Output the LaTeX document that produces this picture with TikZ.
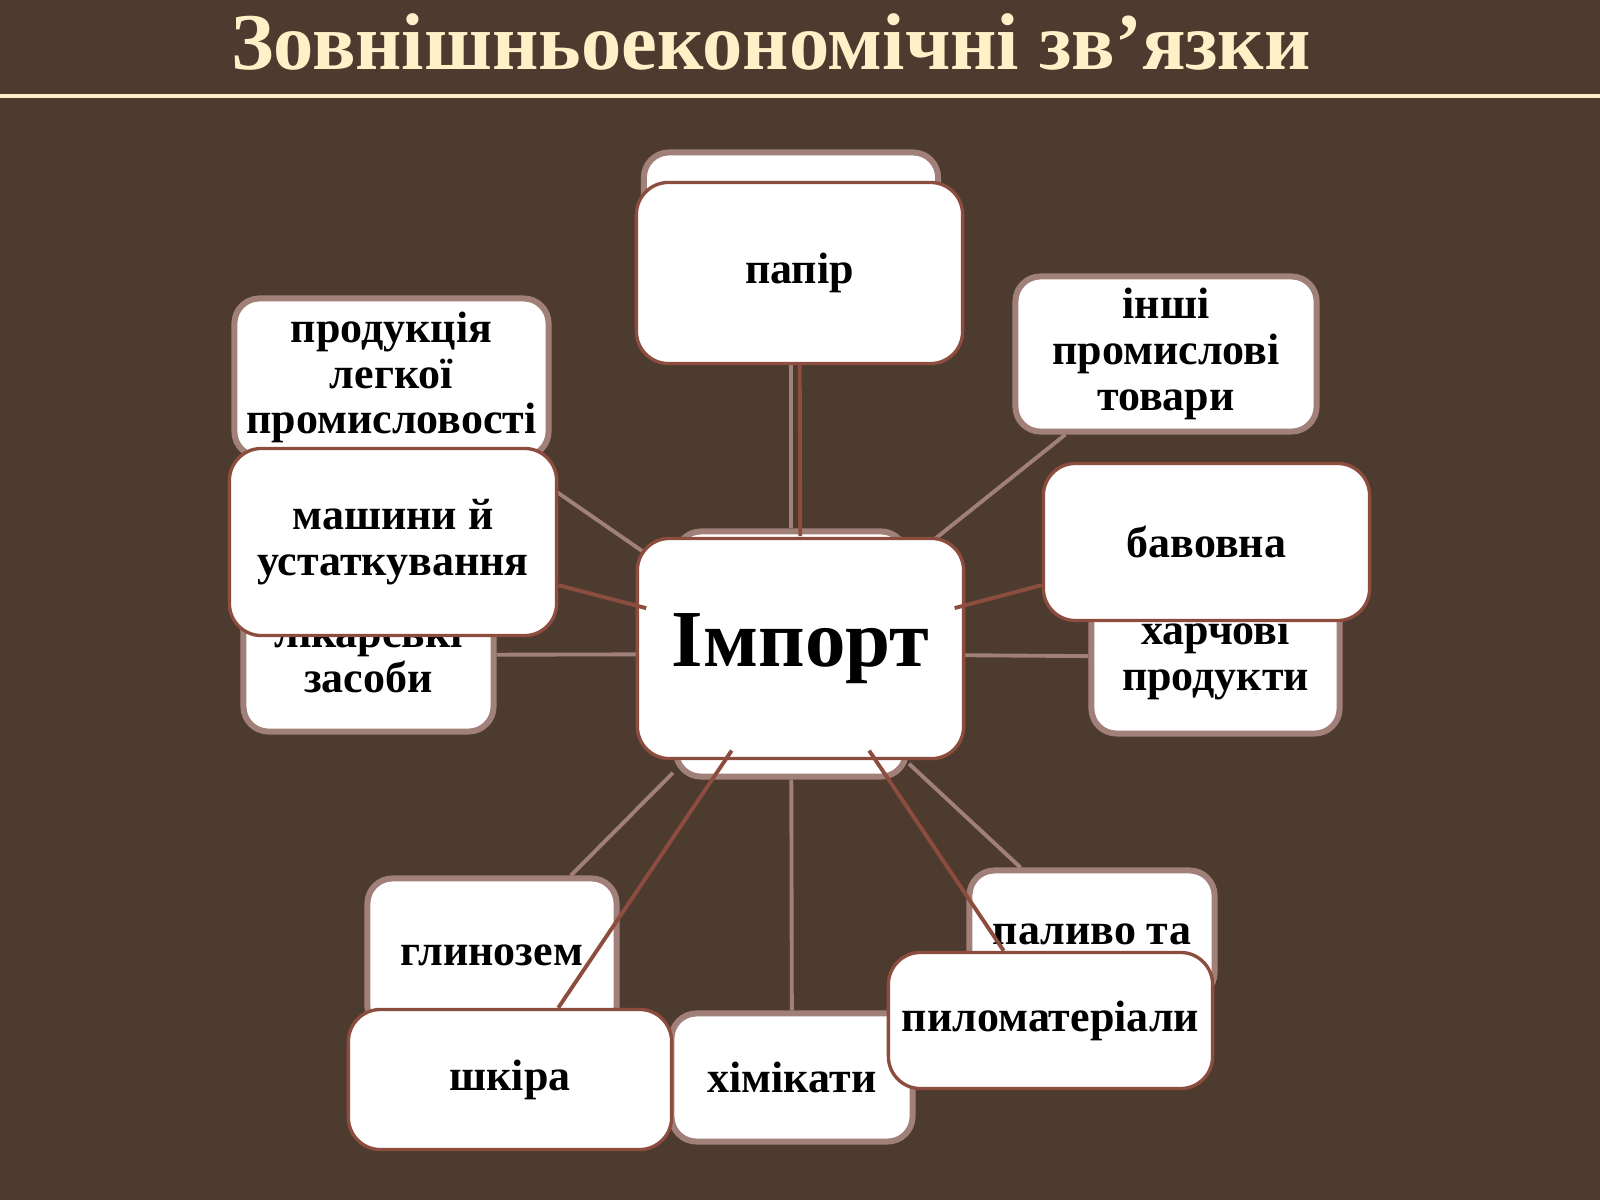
\documentclass[tikz,border=0pt]{standalone}
\usepackage{fontspec}
\setmainfont{Liberation Serif}
\usetikzlibrary{shapes.geometric}
\definecolor{bg}{HTML}{4D3B30}
\definecolor{cream}{HTML}{FFF0C8}
\definecolor{pale}{HTML}{A2807A}
\definecolor{rust}{HTML}{8C4D3E}
\pgfdeclarelayer{backlines}
\pgfdeclarelayer{backboxes}
\pgfdeclarelayer{hub}
\pgfdeclarelayer{frontlines}
\pgfsetlayers{backlines,backboxes,hub,frontlines,main}
\begin{document}
\begin{tikzpicture}[x=0.01cm,y=-0.01cm,
	back/.style={draw=pale,line width=1.7pt,fill=white,rounded corners=0.25cm,align=center,inner sep=0pt,font=\bfseries\fontsize{12.5}{13}\selectfont},
	front/.style={back,draw=rust,line width=0.95pt,rounded corners=0.32cm},
	spoke/.style={pale,line width=1.1pt},
	frontspoke/.style={rust,line width=1.1pt}]
	\useasboundingbox (0,0) rectangle (1600,1200);
	\begin{pgfonlayer}{backlines}
	\fill[bg] (0,0) rectangle (1600,1200);
	\end{pgfonlayer}

	\node[text=cream,font=\bfseries\fontsize{22.9}{27}\selectfont,anchor=base] (title) at (771,69) {Зовнішньоекономічні зв’язки};
	\draw[cream,line width=0.9pt] (0,96) -- (1600,96);

	% back diagram
	\begin{pgfonlayer}{backboxes}
	\node[back,minimum width=2.30cm,minimum height=2.45cm] (hubb) at (791,654) {};
	\node[back,minimum width=2.94cm,minimum height=1.53cm] (topb) at (791,229) {};
	\node[back,minimum width=3.14cm,minimum height=1.58cm] (prod) at (391.5,377.5) {продукція\\легкої\\промисловості};
	\node[back,minimum width=3.01cm,minimum height=1.55cm] (inshi) at (1166,354) {інші\\промислові\\товари};
	\node[back,minimum width=2.50cm,minimum height=1.53cm] (likar) at (368.5,655) {лікарські\\засоби};
	\node[back,minimum width=2.48cm,minimum height=1.53cm] (harch) at (1215.5,657) {харчові\\продукти};
	\node[back,minimum width=2.49cm,minimum height=1.53cm] (glyn) at (492,955) {глинозем};
	\node[back,minimum width=2.41cm,minimum height=1.28cm] (chem) at (792,1077.5) {хімікати};
	\node[back,minimum width=2.45cm,minimum height=1.27cm] (paly) at (1092,934) {паливо та};
	\end{pgfonlayer}
	\begin{pgfonlayer}{backlines}
	\foreach \n in {topb,prod,inshi,likar,harch,glyn,chem,paly}
		\draw[spoke] (hubb) -- (\n);
	\end{pgfonlayer}

	% front diagram
	\begin{pgfonlayer}{hub}
	\node[front,minimum width=3.26cm,minimum height=2.20cm,font=\bfseries\fontsize{23}{27}\selectfont] (imp) at (800.5,648.5) {Імпорт};
	\end{pgfonlayer}
	\node[ellipse,minimum width=3.29cm,minimum height=2.23cm,inner sep=0pt] (impring) at (imp) {};
	\node[front,minimum width=3.26cm,minimum height=1.81cm] (papir) at (799.5,273) {папір};
	\node[front,minimum width=3.27cm,minimum height=1.87cm] (mash) at (393,542) {машини й\\устаткування};
	\node[front,minimum width=3.26cm,minimum height=1.57cm] (bav) at (1206.5,542) {бавовна};
	\node[front,minimum width=3.23cm,minimum height=1.40cm] (shkira) at (510,1079.5) {шкіра};
	\node[front,minimum width=3.24cm,minimum height=1.36cm] (pylo) at (1050.5,1020.5) {пиломатеріали};
	\begin{pgfonlayer}{frontlines}
	\foreach \n in {papir,mash,bav,shkira,pylo}
		\draw[frontspoke] (impring) -- (\n);
	\end{pgfonlayer}
\end{tikzpicture}
\end{document}
